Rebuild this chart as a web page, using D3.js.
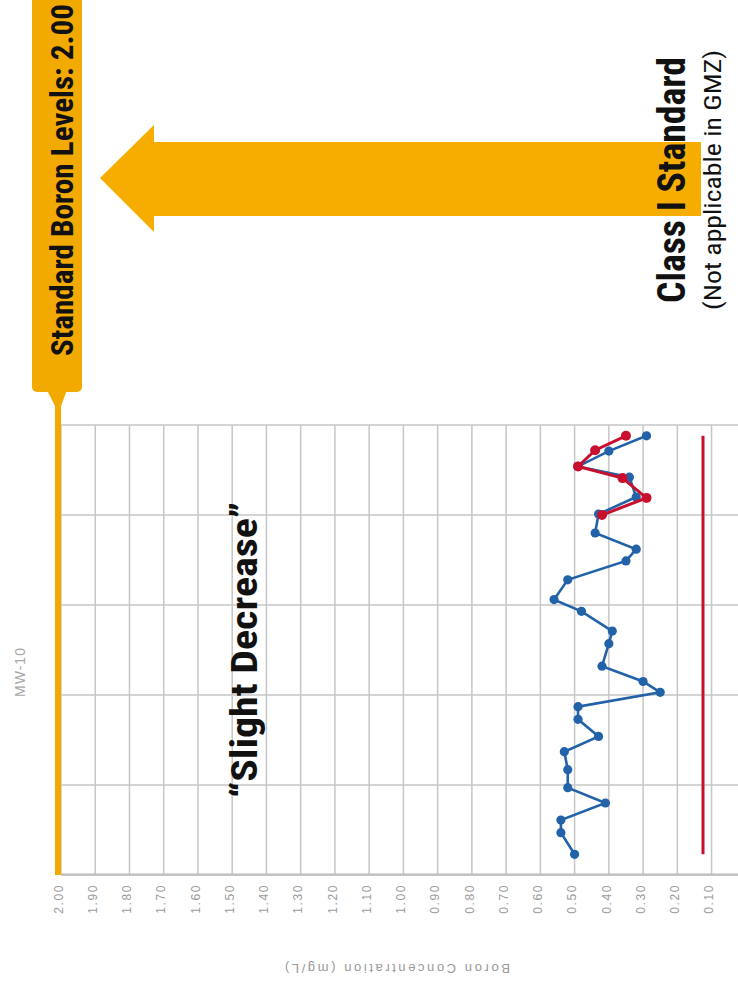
<!DOCTYPE html>
<html>
<head>
<meta charset="utf-8">
<script src="https://cdn.jsdelivr.net/npm/d3@7"></script>
<style>
  html, body { margin: 0; padding: 0; background: #fff; }
  svg { display: block; }
</style>
</head>
<body>
<div id="chart"></div>
<script>
// MW-10 boron concentration, drawn the way the page shows it: the whole chart turned a quarter turn left

// sample dates (decimal years) and values, mg/L
const blueDates = [2013.23, 2013.47, 2013.61, 2013.80, 2013.97, 2014.17, 2014.37, 2014.54, 2014.73,
  2014.87, 2015.03, 2015.15, 2015.32, 2015.57, 2015.71, 2015.93, 2016.06, 2016.28, 2016.49,
  2016.62, 2016.80, 2017.01, 2017.20, 2017.42, 2017.54, 2017.71, 2017.88]
const blueValues = [0.50, 0.54, 0.54, 0.41, 0.52, 0.52, 0.53, 0.43, 0.49,
  0.49, 0.25, 0.30, 0.42, 0.40, 0.39, 0.48, 0.56, 0.52, 0.35,
  0.32, 0.44, 0.43, 0.32, 0.34, 0.49, 0.40, 0.29]
const redDates = [2017.00, 2017.19, 2017.41, 2017.54, 2017.72, 2017.88]
const redValues = [0.42, 0.29, 0.36, 0.49, 0.44, 0.35]

const yearTicks = [2013, 2014, 2015, 2016, 2017, 2018]
const valueTicks = d3.range(0, 21).map(d => d / 10)
const standardLevel = 2.0
const lowerLine = 0.125

const chartTitle = "MW-10"
const axisTitle = "Boron Concentration (mg/L)"
const trendNote = "\u201cSlight Decrease\u201d"
const standardLabel = "Standard Boron Levels: 2.00"
const classLabel = "Class I Standard"
const classNote = "(Not applicable in GMZ)"

const ORANGE = "#f2a900"
const ARROW = "#f6ad00"
const BLUE = "#2262a8"
const RED = "#c8102e"
const GRID = "#c6c6c6"
const NARROW = "'Liberation Sans Narrow', 'Arial Narrow', 'Roboto Condensed', sans-serif"

const width = 738
const height = 983

const svg = d3.select("#chart").append("svg")
  .attr("width", width)
  .attr("height", height)

// chart group in its own (unrotated) frame: x = time, y = value
const origin = { x: 61, y: 875 }
const plotW = 450
const xScale = d3.scaleLinear().domain([2013, 2018]).range([0, plotW])
const yScale = d3.scaleLinear().domain([0, 2]).range([684.8, 0])

const g = svg.append("g")
  .attr("transform", `translate(${origin.x},${origin.y}) rotate(-90)`)

// Gridlines
g.append("g")
  .selectAll("line")
  .data(valueTicks.filter(d => d > 0))
  .enter()
  .append("line")
  .attr("x1", 0).attr("x2", plotW)
  .attr("y1", d => yScale(d)).attr("y2", d => yScale(d))
  .attr("stroke", GRID)
  .attr("stroke-width", 1.5)

g.append("g")
  .selectAll("line")
  .data(yearTicks)
  .enter()
  .append("line")
  .attr("x1", d => xScale(d)).attr("x2", d => xScale(d))
  .attr("y1", yScale(2)).attr("y2", yScale(0))
  .attr("stroke", GRID)
  .attr("stroke-width", 1.5)

// Value axis
const yAxis = d3.axisLeft(yScale)
  .tickValues(valueTicks)
  .tickFormat(d3.format(".2f"))
  .tickSize(0)
  .tickPadding(9)

const axisG = g.append("g").call(yAxis)
axisG.select(".domain").attr("stroke", "#bdbdbd").attr("stroke-width", 2)
axisG.selectAll("text")
  .attr("fill", "#9c9c9c")
  .attr("font-family", "Arial, 'Liberation Sans', sans-serif")
  .attr("font-size", "12px")
  .attr("letter-spacing", "1.6px")
  .attr("dy", "0.1em")

g.append("text")
  .attr("transform", `translate(-89,${yScale(1.0) - 6}) rotate(-90)`)
  .attr("text-anchor", "middle")
  .attr("fill", "#999")
  .attr("font-family", "Arial, 'Liberation Sans', sans-serif")
  .attr("font-size", "13px")
  .attr("textLength", 225)
  .attr("lengthAdjust", "spacing")
  .text(axisTitle)

g.append("text")
  .attr("x", 203)
  .attr("y", -36)
  .attr("text-anchor", "middle")
  .attr("fill", "#a8a8a8")
  .attr("font-family", "Arial, 'Liberation Sans', sans-serif")
  .attr("font-size", "14px")
  .attr("letter-spacing", "1px")
  .text(chartTitle)

// Standard line at 2.00, running up into the label box
g.append("line")
  .attr("x1", 0).attr("x2", 470)
  .attr("y1", yScale(standardLevel) - 3).attr("y2", yScale(standardLevel) - 3)
  .attr("stroke", ORANGE)
  .attr("stroke-width", 6)

// Lower red line
g.append("line")
  .attr("x1", xScale(blueDates[0])).attr("x2", xScale(blueDates[blueDates.length - 1]))
  .attr("y1", yScale(lowerLine)).attr("y2", yScale(lowerLine))
  .attr("stroke", RED)
  .attr("stroke-width", 3)

// Series
const line = d3.line()
  .x(d => xScale(d[0]))
  .y(d => yScale(d[1]))

const blue = d3.zip(blueDates, blueValues)
const red = d3.zip(redDates, redValues)

g.append("path")
  .datum(blue)
  .attr("fill", "none")
  .attr("stroke", BLUE)
  .attr("stroke-width", 2.6)
  .attr("d", line)

g.selectAll("circle.blue")
  .data(blue)
  .enter()
  .append("circle")
  .attr("class", "blue")
  .attr("cx", d => xScale(d[0]))
  .attr("cy", d => yScale(d[1]))
  .attr("r", 4.6)
  .attr("fill", BLUE)

g.append("path")
  .datum(red)
  .attr("fill", "none")
  .attr("stroke", RED)
  .attr("stroke-width", 3)
  .attr("d", line)

g.selectAll("circle.red")
  .data(red)
  .enter()
  .append("circle")
  .attr("class", "red")
  .attr("cx", d => xScale(d[0]))
  .attr("cy", d => yScale(d[1]))
  .attr("r", 5)
  .attr("fill", RED)

// Annotations, in page coordinates
const notes = svg.append("g")

// label box on top of the standard line
notes.append("rect")
  .attr("x", 32).attr("y", -10)
  .attr("width", 50).attr("height", 402)
  .attr("rx", 5)
  .attr("fill", ORANGE)
notes.append("path")
  .attr("d", "M47,390 L67,390 L61,406 L55,406 Z")
  .attr("fill", ORANGE)

notes.append("text")
  .attr("transform", "translate(73,180) rotate(-90)")
  .attr("text-anchor", "middle")
  .attr("font-family", NARROW)
  .attr("font-weight", "bold")
  .attr("font-size", "31px")
  .attr("textLength", 352)
  .attr("lengthAdjust", "spacingAndGlyphs")
  .attr("fill", "#111")
  .text(standardLabel)

// arrow from Class I Standard to the 2.00 line
notes.append("path")
  .attr("d", "M100,178 L154,125 L154,142 L701,142 L701,216 L154,216 L154,232 Z")
  .attr("fill", ARROW)

notes.append("text")
  .attr("transform", "translate(685,180) rotate(-90)")
  .attr("text-anchor", "middle")
  .attr("font-family", NARROW)
  .attr("font-weight", "bold")
  .attr("font-size", "38px")
  .attr("textLength", 246)
  .attr("lengthAdjust", "spacingAndGlyphs")
  .attr("fill", "#111")
  .text(classLabel)

notes.append("text")
  .attr("transform", "translate(721,180) rotate(-90)")
  .attr("text-anchor", "middle")
  .attr("font-family", NARROW)
  .attr("font-size", "24px")
  .attr("textLength", 260)
  .attr("lengthAdjust", "spacingAndGlyphs")
  .attr("fill", "#111")
  .text(classNote)

notes.append("text")
  .attr("transform", "translate(257,650) rotate(-90)")
  .attr("text-anchor", "middle")
  .attr("font-family", NARROW)
  .attr("font-weight", "bold")
  .attr("font-size", "37px")
  .attr("textLength", 296)
  .attr("lengthAdjust", "spacingAndGlyphs")
  .attr("fill", "#111")
  .text(trendNote)
</script>
</body>
</html>
